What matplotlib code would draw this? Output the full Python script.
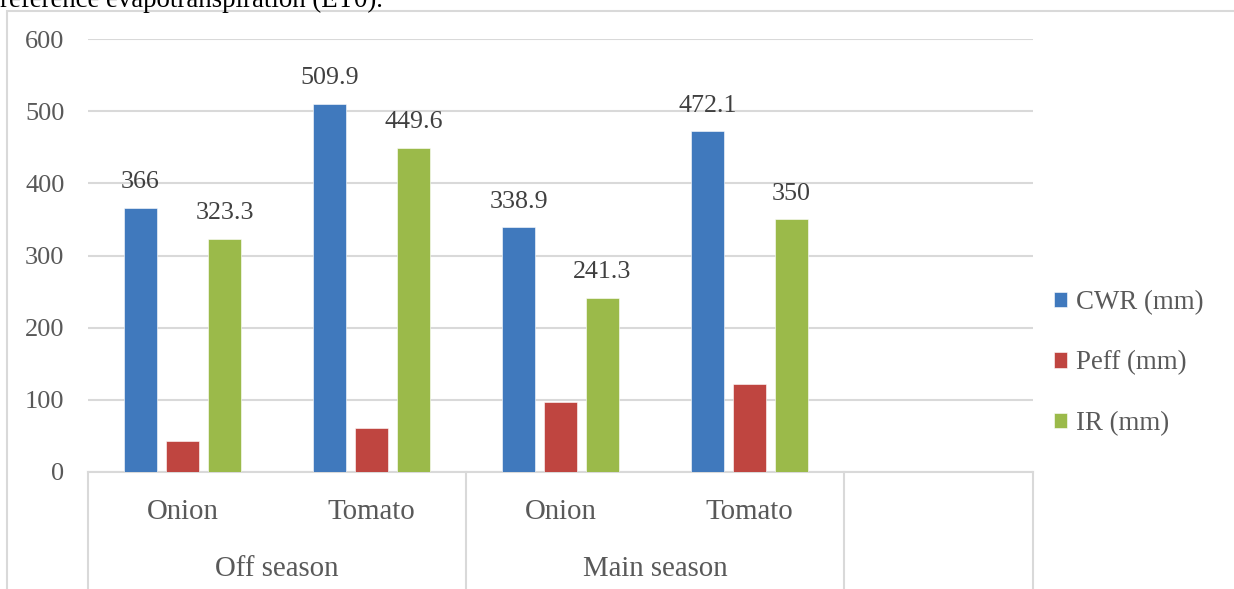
import numpy as np
import matplotlib
matplotlib.use("Agg")
import matplotlib.pyplot as plt
from matplotlib.patches import Patch, Rectangle

plt.rcParams['font.family'] = ['Liberation Serif', 'DejaVu Serif']

crops = ["Onion", "Tomato", "Onion", "Tomato"]
seasons = ["Off season", "Main season"]
series = ["CWR (mm)", "Peff (mm)", "IR (mm)"]
cwr = [366, 509.9, 338.9, 472.1]
peff = [42.7, 60.3, 97.6, 122.1]
ir = [323.3, 449.6, 241.3, 350]
colors = ["#4079BD", "#BF4540", "#9BBA4A"]

grey = "#d9d9d9"
txt = "#595959"

W, H = 1234, 589
fig = plt.figure(figsize=(W / 100, H / 100), dpi=100)
ax = fig.add_axes([88 / W, (H - 472) / H, (1033 - 88) / W, (472 - 39) / H])

# outer chart border (cut off on right and bottom)
fig.patches.append(Rectangle((7 / W, -0.1), 1.2, 1 - 11 / H + 0.1, transform=fig.transFigure,
                             fill=False, edgecolor=grey, lw=1.5))
# partial caption text above the chart
fig.text(0, 1 - 7 / H, "reference evapotranspiration (ET0).", fontsize=19.4,
         va='baseline', ha='left', color='black')

x = np.arange(len(crops))
width = 0.175
step = 0.222
data = [cwr, peff, ir]
for i in range(3):
    bars = ax.bar(x + (i - 1) * step, data[i], width, color=colors[i], edgecolor='white',
                  linewidth=0.4, zorder=3)
    if i != 1:
        for xi, v in zip(x + (i - 1) * step, data[i]):
            ax.annotate("%g" % v, (xi, v), xytext=(0, 18.5), textcoords='offset points',
                        ha='center', va='center', fontsize=18.7, color='#404040')

ax.set_xlim(-0.5, 4.5)
ax.set_ylim(0, 600)
ax.set_yticks(np.arange(0, 601, 100))
ax.yaxis.grid(True, color=grey, lw=1.5, zorder=0)
ax.tick_params(axis='y', length=0, pad=17, labelsize=19, labelcolor=txt)
ax.set_xticks([])
for s in ['top', 'right', 'left']:
    ax.spines[s].set_visible(False)
ax.spines['bottom'].set_color(grey)
ax.spines['bottom'].set_linewidth(1.5)

# category labels
trans = ax.get_xaxis_transform()
for xi, c in zip(x, crops):
    ax.text(xi, -40 / 433, c, transform=trans, ha='center', va='center',
            fontsize=20.8, color=txt)
for k, s in enumerate(seasons):
    ax.text(0.5 + 2 * k, -97 / 433, s, transform=trans, ha='center', va='center',
            fontsize=20.8, color=txt)
for xv in [-0.5, 1.5, 3.5, 4.5]:
    ax.plot([xv, xv], [0, -0.4], transform=trans, clip_on=False, color=grey, lw=1.5)

handles = [Patch(facecolor=colors[i], edgecolor='white', lw=0.4) for i in range(3)]
leg = fig.legend(handles, series, loc='center left',
                 bbox_to_anchor=(1054 / W, (H - 363) / H), frameon=False,
                 fontsize=19.4, handlelength=0.5, handleheight=0.5, handletextpad=0.3,
                 labelspacing=1.32, borderpad=0, borderaxespad=0)
for t in leg.get_texts():
    t.set_color(txt)

fig.savefig("out.png", dpi=100)
